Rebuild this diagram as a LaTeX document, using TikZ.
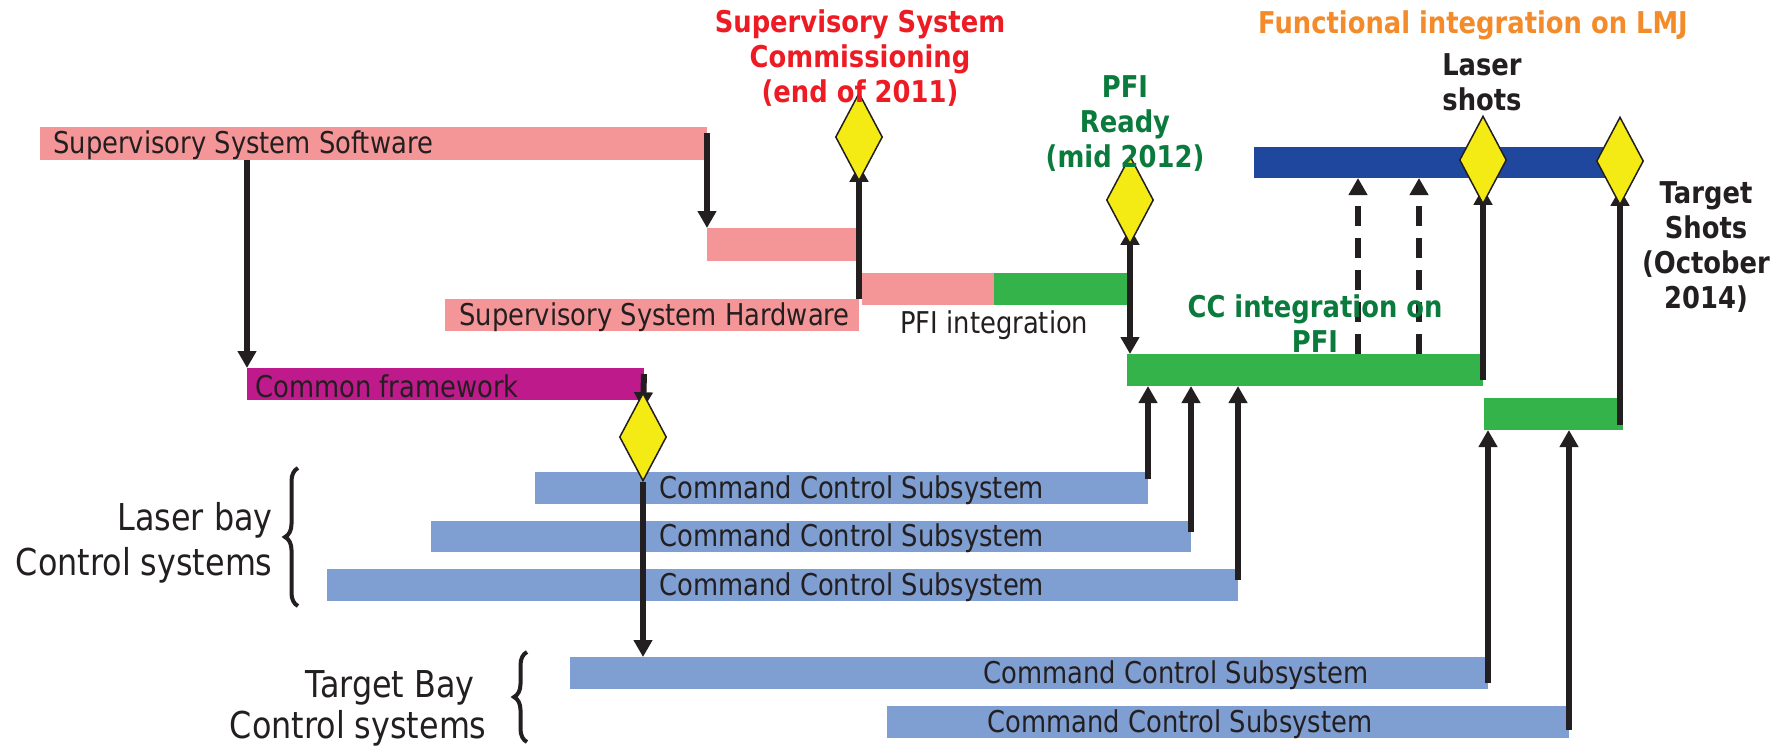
\documentclass[tikz,border=0pt]{standalone}
\usepackage{fontspec}
\setmainfont{DejaVu Sans}[FakeStretch=0.86]
\usetikzlibrary{arrows.meta,shapes.geometric,fit,calc,decorations.pathreplacing}

\definecolor{pinkbar}{HTML}{F49698}
\definecolor{magbar}{HTML}{BE1A8C}
\definecolor{bluebar}{HTML}{7F9ED2}
\definecolor{navybar}{HTML}{1F479D}
\definecolor{greenbar}{HTML}{33B34A}
\definecolor{greentxt}{HTML}{0B7B3D}
\definecolor{redtxt}{HTML}{ED1C24}
\definecolor{orangetxt}{HTML}{F38B2B}
\definecolor{milestone}{HTML}{F4EB14}
\definecolor{ink}{HTML}{231F20}

\tikzset{
  bar/.style={inner sep=0pt, outer sep=0pt, draw=none},
  lbl/.style={inner sep=0pt, text=ink, font=\fontsize{15}{18}\selectfont},
  blbl/.style={inner sep=0pt, text=ink, align=center, font=\fontsize{15}{17.5}\selectfont\bfseries},
  biglbl/.style={inner sep=0pt, text=ink, align=right, font=\fontsize{18.5}{22.5}\selectfont},
  mstone/.style={diamond, aspect=0.53, draw=ink, line width=0.75pt, fill=milestone,
    inner sep=0pt, minimum width=23.5pt, minimum height=44pt},
  arr/.style={draw=ink, line width=3pt, -{Triangle[width=9pt,length=8.5pt]}},
  arrboth/.style={draw=ink, line width=3pt, {Triangle[width=9pt,length=8.5pt]}-{Triangle[width=9pt,length=8.5pt]}},
  dasharr/.style={arr, dash pattern=on 10pt off 6pt},
  bracket/.style={draw=ink, line width=2pt, decorate, decoration={brace, amplitude=6.5pt}}
}

\begin{document}
\begin{tikzpicture}[x=0.5pt,y=-0.5pt]
\useasboundingbox (0,0) rectangle (1774,746);

% ---- schedule bars ----
\node[bar, fill=pinkbar,  fit={(40,127)(707,160)}]    (sss)  {};
\node[bar, fill=pinkbar,  fit={(707,228)(859,261)}]   (ssa)  {};
\node[bar, fill=pinkbar,  fit={(445,299)(859,331)}]   (ssh)  {};
\node[bar, fill=pinkbar,  fit={(862,273)(994,305)}]   (pfip) {};
\node[bar, fill=greenbar, fit={(994,273)(1128,305)}]  (pfig) {};
\node[bar, fill=magbar,   fit={(247,368)(644,400)}]   (cf)   {};
\node[bar, fill=greenbar, fit={(1127,354)(1483,386)}] (ccint){};
\node[bar, fill=greenbar, fit={(1484,398)(1623,430)}] (tgr)  {};
\node[bar, fill=navybar,  fit={(1254,147)(1629,178)}] (lmj)  {};
\node[bar, fill=bluebar,  fit={(535,472)(1148,504)}]  (ccs1) {};
\node[bar, fill=bluebar,  fit={(431,521)(1191,552)}]  (ccs2) {};
\node[bar, fill=bluebar,  fit={(327,569)(1238,601)}]  (ccs3) {};
\node[bar, fill=bluebar,  fit={(570,657)(1488,689)}]  (tb1)  {};
\node[bar, fill=bluebar,  fit={(887,706)(1569,738)}]  (tb2)  {};

% ---- bar texts ----
\coordinate (ccsx) at (659,0);
\node[lbl, anchor=west] (tsss) at ([xshift=6.5pt,yshift=-1pt]sss.west) {Supervisory System Software};
\node[lbl, anchor=west] (tssh) at ([xshift=7pt,yshift=-1pt]ssh.west) {Supervisory System Hardware};
\node[lbl, anchor=west] (tcf)  at ([xshift=4pt,yshift=-1pt]cf.west) {Common framework};
\node[lbl, anchor=west] (tcc1) at ([yshift=-1pt]ccs1.west -| ccsx) {Command Control Subsystem};
\node[lbl, anchor=west] (tcc2) at ([yshift=-1pt]ccs2.west -| ccsx) {Command Control Subsystem};
\node[lbl, anchor=west] (tcc3) at ([yshift=-1pt]ccs3.west -| ccsx) {Command Control Subsystem};
\node[lbl] (ttb1) at ([yshift=-1pt]tb1.center -| 1176,0) {Command Control Subsystem};
\node[lbl] (ttb2) at ([yshift=-1pt]tb2.center -| 1180,0) {Command Control Subsystem};
\node[lbl, anchor=base west] (tpfi) at (900,333) {PFI integration};

% ---- milestones (positions only; drawn after the arrows) ----
\path (859,137)  coordinate (d1c);
\path (643,437)  coordinate (d2c);
\path (1130,200) coordinate (d3c);
\path (1483,160) coordinate (d4c);
\path (1620,161) coordinate (d5c);
\node[mstone, draw=none, fill=none] (d1) at (d1c) {};
\node[mstone, draw=none, fill=none] (d2) at (d2c) {};
\node[mstone, draw=none, fill=none] (d3) at (d3c) {};
\node[mstone, draw=none, fill=none] (d4) at (d4c) {};
\node[mstone, draw=none, fill=none] (d5) at (d5c) {};

% ---- dependencies ----
\draw[arr] (sss.south -| cf.west) -- (cf.north west);
\draw[arr] ([yshift=-3pt]sss.north east) -- (ssa.north west);
\draw[arr] (ssh.north east) -- ($(d1.south)+(0,-17)$);
\draw[arr] ([yshift=-3pt]cf.north east) -- ($(d2.north)+(0,17)$);
\draw[arr] (d2.south) -- (tb1.north -| d2.south);
\draw[arrboth] ($(d3.south)+(0,-17)$) -- (ccint.north -| d3.south);
\draw[arr] ([yshift=-3.5pt]ccs1.north east) -- (ccint.south -| ccs1.north east);
\draw[arr] ([yshift=-5.5pt]ccs2.north east) -- (ccint.south -| ccs2.north east);
\draw[arr] ([yshift=-5.5pt]ccs3.north east) -- (ccint.south -| ccs3.north east);
\draw[arr] ([yshift=-13pt]tb1.north east) -- (tgr.south -| tb1.north east);
\draw[arr] ([yshift=-12pt]tb2.north east) -- (tgr.south -| tb2.north east);
\draw[arr] ([yshift=3pt]ccint.south east) -- ($(d4.south)+(0,-17)$);
\draw[arr] ([xshift=-1.5pt,yshift=2.5pt]tgr.south east) -- ($(d5.south)+(0,-17)$);
\draw[dasharr] (ccint.north -| 1358,0) -- (lmj.south -| 1358,0);
\draw[dasharr] (ccint.north -| 1419,0) -- (lmj.south -| 1419,0);

% ---- milestone diamonds on top ----
\node[mstone] at (d1c) {};
\node[mstone] at (d2c) {};
\node[mstone] at (d3c) {};
\node[mstone] at (d4c) {};
\node[mstone] at (d5c) {};

% ---- milestone captions (anchored at the baseline of their last line) ----
\node[blbl, text=redtxt, anchor=base] (m1) at (860,102) {Supervisory System\\Commissioning\\(end of 2011)};
\node[blbl, text=orangetxt, anchor=base] (m0) at (1473,33) {Functional integration on LMJ};
\node[blbl, anchor=base] (m4) at (1482,110) {Laser\\shots};
\node[blbl, text=greentxt, anchor=base] (m3) at (1125,167) {PFI\\Ready\\(mid 2012)};
\node[blbl, anchor=base] (m5) at (1706,308) {Target\\Shots\\(October\\2014)};
\node[blbl, text=greentxt, anchor=base] (m6) at (1315,352) {CC integration on\\PFI};

% ---- group labels with braces ----
\node[biglbl, anchor=base east] (glb) at (273,575) {Laser bay\\Control systems};
\node[biglbl, anchor=base east, font=\fontsize{18.5}{20.5}\selectfont] (gtb) at (487,738) {Target Bay\hspace*{6pt}\\Control systems};
\coordinate (b1a) at (298,606);
\coordinate (b1b) at (298,468);
\coordinate (b2a) at (527,742);
\coordinate (b2b) at (527,652);
\draw[bracket] (b1a) -- (b1b);
\draw[bracket] (b2a) -- (b2b);
\end{tikzpicture}
\end{document}
